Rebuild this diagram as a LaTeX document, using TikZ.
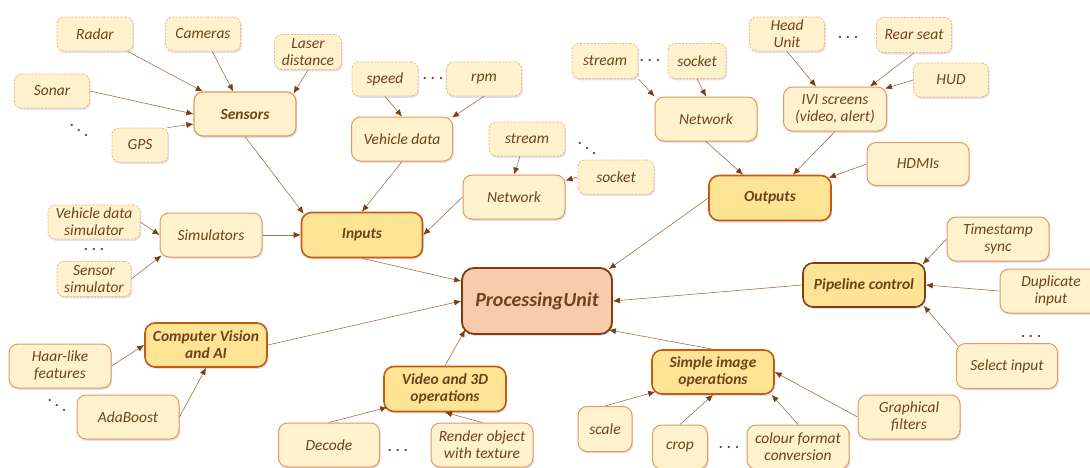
\documentclass[tikz,border=0pt]{standalone}
\usepackage{fontspec}
\setmainfont{Carlito}
\usepackage{tikz}
\usetikzlibrary{
  arrows.meta,
  shadows
}
\definecolor{leaffill}{RGB}{255, 242, 204}
\definecolor{leafline}{RGB}{244, 177, 131}
\definecolor{subline}{RGB}{228, 152, 96}
\definecolor{groupfill}{RGB}{255, 228, 150}
\definecolor{groupline}{RGB}{197, 90, 17}
\definecolor{corefill}{RGB}{248, 203, 173}
\definecolor{coreline}{RGB}{132, 60, 12}
\definecolor{labelcolor}{RGB}{112, 66, 28}
\definecolor{arrowcolor}{RGB}{165, 110, 75}
\definecolor{tipcolor}{RGB}{122, 62, 16}
\definecolor{shadowcolor}{RGB}{190, 195, 210}
\tikzset{
blocktext/.style={
  align=center,
  font=\itshape\fontsize{15.5}{17}\selectfont,
  text=labelcolor
},
softshadow/.style={
  drop shadow={shadow xshift=1.2pt, shadow yshift=-1.8pt, fill=shadowcolor, opacity=0.5}
},
leafblock/.style={
  draw=leafline,
  dash pattern=on 2pt off 1.5pt,
  line width=0.8pt,
  rounded corners=7pt,
  fill=leaffill,
  minimum width=75pt,
  minimum height=34pt,
  inner sep=1pt,
  softshadow,
  blocktext
},
subblock/.style={
  draw=subline,
  line width=1pt,
  rounded corners=9pt,
  fill=leaffill,
  minimum width=102pt,
  minimum height=44pt,
  inner sep=1pt,
  softshadow,
  blocktext
},
groupblock/.style={
  draw=groupline,
  line width=1.6pt,
  rounded corners=10pt,
  fill=groupfill,
  minimum width=122pt,
  minimum height=45pt,
  inner sep=1pt,
  softshadow,
  blocktext,
  font=\bfseries\itshape\fontsize{15.5}{17}\selectfont
},
coreblock/.style={
  draw=coreline,
  line width=1.8pt,
  rounded corners=12pt,
  fill=corefill,
  minimum width=150pt,
  minimum height=66pt,
  softshadow,
  blocktext,
  font=\bfseries\itshape\fontsize{20}{22}\selectfont
},
dotstext/.style={
  font=\bfseries\fontsize{15}{17}\selectfont,
  text=labelcolor,
  inner sep=0pt
},
arrow/.style={
  -{Latex[length=7pt,width=6pt,color=tipcolor]},
  line width=0.6pt,
  draw=arrowcolor
}
}

\begin{document}
\begin{tikzpicture}[x=1pt, y=-1pt]
  \useasboundingbox (0,0) rectangle (1090,467);

  % Sensors (top left)
  \node[leafblock, minimum width=76pt] (radar) at (95,34) {Radar};
  \node[leafblock] (cameras) at (203,34) {Cameras};
  \node[leafblock, minimum width=67pt, minimum height=35pt] (laser) at (308,52) {Laser\\distance};
  \node[leafblock] (sonar) at (52,91) {Sonar};
  \node[leafblock, minimum width=56pt] (gps) at (140,145) {GPS};
  \node[dotstext] (sdots) at (79,130) {.\hspace{3pt}\raisebox{-5pt}{.}\hspace{3pt}\raisebox{-10pt}{.}};
  \node[subblock, draw=subline, line width=1.2pt, font=\bfseries\itshape\fontsize{15.5}{17}\selectfont] (sensors) at (245,114) {Sensors};

  % Vehicle data
  \node[leafblock, minimum width=66pt] (speed) at (385,79) {speed};
  \node[dotstext] (vdots) at (433,78) {.\hspace{4pt}.\hspace{4pt}.};
  \node[leafblock] (rpm) at (484,79) {rpm};
  \node[subblock, minimum width=101pt] (vehdata) at (402,139) {Vehicle data};

  % Network (input side)
  \node[leafblock, minimum width=76pt] (instream) at (527,139) {stream};
  \node[dotstext] (ndots) at (587,148) {.\hspace{3pt}\raisebox{-5pt}{.}\hspace{3pt}\raisebox{-10pt}{.}};
  \node[leafblock, minimum width=76pt] (insocket) at (616,177) {socket};
  \node[subblock] (innet) at (514,197) {Network};

  % Simulators
  \node[leafblock, minimum width=92pt] (vdsim) at (94,222) {Vehicle data\\simulator};
  \node[dotstext] (mdots) at (94,249) {.\hspace{4pt}.\hspace{4pt}.};
  \node[leafblock, minimum width=74pt, minimum height=35pt] (sensim) at (94,279) {Sensor\\simulator};
  \node[subblock] (simul) at (211,235) {Simulators};

  % Inputs and core
  \node[groupblock, minimum width=121pt] (inputs) at (362,235) {Inputs};
  \node[coreblock] (pu) at (537,301) {ProcessingUnit};

  % Outputs (top right)
  \node[leafblock, minimum width=66pt, minimum height=35pt] (outstream) at (605,61) {stream};
  \node[dotstext] (odots) at (650,60) {.\hspace{4pt}.\hspace{4pt}.};
  \node[leafblock, minimum width=58pt, minimum height=35pt] (outsocket) at (697,61) {socket};
  \node[subblock] (outnet) at (706,119) {Network};
  \node[leafblock] (headunit) at (787,34) {Head\\Unit};
  \node[dotstext] (hdots) at (848,37) {.\hspace{4pt}.\hspace{4pt}.};
  \node[leafblock, minimum height=35pt] (rearseat) at (914,35) {Rear seat};
  \node[leafblock] (hud) at (951,80) {HUD};
  \node[subblock, minimum width=103pt] (ivi) at (835,109) {IVI screens\\(video, alert)};
  \node[subblock, minimum height=43pt] (hdmis) at (918,164) {HDMIs};
  \node[groupblock] (outputs) at (770,198) {Outputs};

  % Pipeline control
  \node[groupblock, draw=coreline, minimum height=44pt] (pipe) at (864,285) {Pipeline control};
  \node[subblock] (tsync) at (998,239) {Timestamp\\sync};
  \node[subblock] (dupl) at (1051,291) {Duplicate\\input};
  \node[dotstext] (pdots) at (1031,336) {.\hspace{4pt}.\hspace{4pt}.};
  \node[subblock, minimum width=101pt, minimum height=45pt] (select) at (1007,366) {Select input};

  % Computer vision
  \node[groupblock, minimum height=44pt] (cvai) at (206,345) {Computer Vision\\and AI};
  \node[subblock] (haar) at (60,366) {Haar-like\\features};
  \node[dotstext] (cdots) at (57,405) {.\hspace{3pt}\raisebox{-5pt}{.}\hspace{3pt}\raisebox{-10pt}{.}};
  \node[subblock] (adaboost) at (128,417) {AdaBoost};

  % Video and 3D
  \node[groupblock] (v3d) at (445,389) {Video and 3D\\operations};
  \node[subblock, minimum width=101pt] (decode) at (329,445) {Decode};
  \node[dotstext] (ddots) at (398,450) {.\hspace{4pt}.\hspace{4pt}.};
  \node[subblock] (render) at (482,445) {Render object\\with texture};

  % Simple image operations
  \node[groupblock, minimum height=44pt] (sio) at (713,372) {Simple image\\operations};
  \node[subblock, minimum width=54pt, minimum height=45pt] (scale) at (605,429) {scale};
  \node[subblock, minimum width=55pt] (crop) at (680,447) {crop};
  \node[dotstext] (idots) at (729,447) {.\hspace{4pt}.\hspace{4pt}.};
  \node[subblock] (colour) at (798,447) {colour format\\conversion};
  \node[subblock] (graph) at (909,417) {Graphical\\filters};

  % Arrows into Sensors
  \draw[arrow] (radar) -- (sensors);
  \draw[arrow] (cameras) -- (sensors);
  \draw[arrow] (laser.south) -- ([xshift=-3pt,yshift=-2pt]sensors.north east);
  \draw[arrow] (sonar.east) -- (sensors.west);
  \draw[arrow] ([xshift=-1pt]gps.north east) -- ([yshift=-10pt]sensors.west);

  % Arrows into Inputs
  \draw[arrow] (speed.south) -- (vehdata.north);
  \draw[arrow] (rpm.south) -- ([xshift=-1pt,yshift=-1pt]vehdata.north east);
  \draw[arrow] ([xshift=-7pt]instream.south) -- (innet.north);
  \draw[arrow] (insocket.west) -- ([yshift=-6pt]innet.north east);
  \draw[arrow] (vdsim.east) -- (simul.west);
  \draw[arrow] (sensim.east) -- ([xshift=2pt,yshift=2pt]simul.south west);
  \draw[arrow] (sensors.south) -- ([xshift=3pt,yshift=-2pt]inputs.north west);
  \draw[arrow] (vehdata.south) -- (inputs.north);
  \draw[arrow] (innet.west) -- (inputs.east);
  \draw[arrow] (simul) -- (inputs);

  % Arrows into Outputs
  \draw[arrow] (outstream.south east) -- (outnet.north west);
  \draw[arrow] (outsocket.south) -- (outnet.north);
  \draw[arrow] (headunit.south) -- ([xshift=-19pt]ivi.north);
  \draw[arrow] (rearseat.south) -- ([xshift=35pt]ivi.north);
  \draw[arrow] (hud.west) -- ([xshift=-2pt,yshift=-2pt]ivi.north east);
  \draw[arrow] (outnet.south) -- ([xshift=-27pt]outputs.north);
  \draw[arrow] (ivi.south) -- ([xshift=23pt]outputs.north);
  \draw[arrow] (hdmis.west) -- ([xshift=-3pt,yshift=-3pt]outputs.north east);

  % Arrows into Pipeline control
  \draw[arrow] (tsync.west) -- ([xshift=-3pt,yshift=-2pt]pipe.north east);
  \draw[arrow] (dupl.west) -- (pipe.east);
  \draw[arrow] ([xshift=2pt,yshift=-3pt]select.north west) -- ([xshift=-2pt,yshift=2pt]pipe.south east);

  % Arrows into Computer Vision, Video and 3D, Simple image operations
  \draw[arrow] (haar.east) -- (cvai.west);
  \draw[arrow] (adaboost.east) -- (cvai.south);
  \draw[arrow] (decode.north) -- ([xshift=4pt,yshift=5pt]v3d.south west);
  \draw[arrow] (render.north) -- (v3d.south);
  \draw[arrow] (scale.north) -- ([xshift=4pt,yshift=3pt]sio.south west);
  \draw[arrow] (crop.north) -- (sio.south);
  \draw[arrow] (colour.north) -- ([xshift=-3pt]sio.south east);
  \draw[arrow] (graph.west) -- (sio.east);

  % Arrows into ProcessingUnit
  \draw[arrow] (inputs.south) -- ([yshift=-14pt]pu.north west);
  \draw[arrow] (cvai.east) -- (pu.west);
  \draw[arrow] (v3d.north) -- ([xshift=4pt,yshift=5pt]pu.south west);
  \draw[arrow] (outputs.west) -- ([xshift=-4pt,yshift=-2pt]pu.north east);
  \draw[arrow] (pipe.west) -- (pu.east);
  \draw[arrow] (sio.north) -- ([xshift=-4pt,yshift=5pt]pu.south east);
\end{tikzpicture}
\end{document}
